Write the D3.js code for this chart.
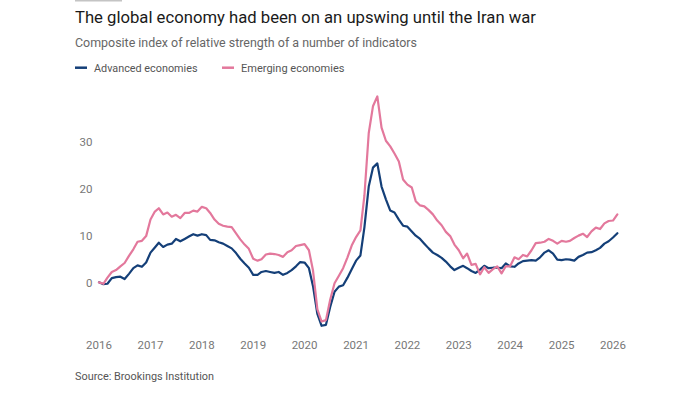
<!DOCTYPE html>
<html>
<head>
<meta charset="utf-8">
<script src="https://cdn.jsdelivr.net/npm/d3@7"></script>
<style>
  body { margin: 0; background: #fff; }
  svg { display: block; font-family: Roboto, 'Noto Sans', sans-serif; }
</style>
</head>
<body>
<svg></svg>
<script>
// 차트 데이터 (월별, 2016년 1월 ~ 2026년 2월)
const startMonth = '2016-01';
const seriesNames = ['Advanced economies', 'Emerging economies'];
const seriesColors = ['#143f78', '#e3789c'];

const advanced = [
  0.2, -0.2, -0.1, 1.1, 1.3, 1.4, 0.9, 2.0, 3.2, 3.8, 3.5, 4.4,
  6.5, 7.6, 8.6, 7.7, 8.2, 8.4, 9.4, 8.9, 9.4, 9.9, 10.4, 10.1,
  10.4, 10.2, 9.2, 9.1, 8.7, 8.4, 7.9, 7.4, 6.4, 5.2, 4.2, 3.3,
  1.8, 1.8, 2.4, 2.6, 2.4, 2.2, 2.4, 1.8, 2.2, 2.8, 3.6, 4.5,
  4.4, 3.2, -0.6, -6.5, -9.0, -8.8, -5.0, -1.8, -0.7, -0.4, 1.2, 3.0,
  4.8, 5.9, 11.8, 20.5, 24.5, 25.4, 20.5, 17.8, 15.4, 15.0, 13.5, 12.2,
  12.0, 11.0, 10.1, 9.4, 8.4, 7.4, 6.5, 6.0, 5.4, 4.6, 3.6, 2.8,
  3.3, 3.7, 3.2, 2.6, 2.2, 2.9, 3.7, 3.2, 3.3, 3.3, 3.2, 4.2,
  3.6, 3.5, 4.2, 4.7, 4.8, 4.9, 4.8, 5.5, 6.5, 7.0, 6.3, 5.0,
  4.9, 5.1, 5.0, 4.8, 5.6, 6.0, 6.5, 6.6, 7.0, 7.5, 8.4, 8.9,
  9.7, 10.6
];

const emerging = [
  0.2, -0.1, 1.2, 2.4, 2.8, 3.6, 4.3, 5.8, 7.2, 8.8, 9.0, 10.0,
  13.5, 15.2, 15.9, 14.6, 15.0, 14.1, 14.5, 13.8, 14.9, 14.9, 15.4, 15.2,
  16.2, 15.9, 14.9, 13.5, 12.6, 12.2, 12.0, 11.9, 10.6, 9.3, 8.2, 7.3,
  5.2, 4.8, 5.1, 6.1, 6.3, 6.2, 6.0, 5.6, 6.6, 7.0, 7.9, 8.1,
  8.3, 7.0, 2.7, -5.5, -8.1, -7.8, -3.5, 0.0, 1.6, 3.2, 5.5, 8.0,
  9.8, 11.2, 18.5, 31.8, 37.5, 39.6, 33.0, 30.2, 29.0, 27.5, 25.8, 22.0,
  20.9, 20.3, 17.4, 16.5, 16.3, 15.5, 14.6, 13.3, 12.3, 10.9, 10.0, 8.2,
  7.0, 5.3, 6.3, 3.9, 4.1, 1.9, 3.4, 2.2, 3.0, 3.6, 2.1, 3.6,
  3.6, 5.5, 5.1, 6.0, 5.7, 7.0, 8.5, 8.6, 8.8, 9.4, 9.0, 8.4,
  9.0, 8.8, 9.0, 9.6, 10.1, 10.5, 9.8, 11.0, 11.8, 11.5, 12.7, 13.2,
  13.3, 14.6
];

const yTicks = [0, 10, 20, 30];
const xTickYears = [2016, 2017, 2018, 2019, 2020, 2021, 2022, 2023, 2024, 2025, 2026];

document.addEventListener('DOMContentLoaded', function () {
  drawChart();
});

function drawChart() {
  const width = 700;
  const height = 394;
  const svg = d3.select('svg').attr('width', width).attr('height', height);

  const parseMonth = d3.timeParse('%Y-%m');
  const start = parseMonth(startMonth);
  const dates = advanced.map((_, i) => d3.timeMonth.offset(start, i));

  const x = d3.scaleTime()
    .domain([new Date(2016, 0, 1), new Date(2026, 0, 1)])
    .range([99, 613]);

  const y = d3.scaleLinear()
    .domain([0, 30])
    .range([283.3, 141.7]);

  // 상단 회색 막대
  svg.append('rect')
    .attr('x', 75)
    .attr('y', 0)
    .attr('width', 47)
    .attr('height', 1.5)
    .attr('fill', '#c4c4c4');

  // 제목, 부제목
  svg.append('text')
    .attr('x', 75)
    .attr('y', 22.7)
    .attr('font-size', 17)
    .attr('fill', '#1a1a1a')
    .attr('textLength', 461)
    .attr('lengthAdjust', 'spacingAndGlyphs')
    .text('The global economy had been on an upswing until the Iran war');

  svg.append('text')
    .attr('x', 75)
    .attr('y', 46.7)
    .attr('font-size', 12.5)
    .attr('fill', '#666')
    .attr('textLength', 342)
    .attr('lengthAdjust', 'spacingAndGlyphs')
    .text('Composite index of relative strength of a number of indicators');

  // 범례
  const legendX = [75, 222];
  const legend = svg.selectAll('.legend')
    .data(seriesNames)
    .enter()
    .append('g')
    .attr('class', 'legend')
    .attr('transform', (d, i) => `translate(${legendX[i]},0)`);

  legend.append('line')
    .attr('x1', 0)
    .attr('x2', 12)
    .attr('y1', 67.7)
    .attr('y2', 67.7)
    .attr('stroke', (d, i) => seriesColors[i])
    .attr('stroke-width', 2.5);

  legend.append('text')
    .attr('x', 19)
    .attr('y', 71.7)
    .attr('font-size', 11.5)
    .attr('fill', '#555')
    .attr('textLength', 103.5)
    .attr('lengthAdjust', 'spacingAndGlyphs')
    .text((d) => d);

  // y축 눈금
  svg.selectAll('.ytick')
    .data(yTicks)
    .enter()
    .append('text')
    .attr('class', 'ytick')
    .attr('x', 92.5)
    .attr('y', (d) => y(d))
    .attr('dy', '0.35em')
    .attr('text-anchor', 'end')
    .attr('font-size', 11.5)
    .attr('fill', '#777')
    .text((d) => d);

  // x축 눈금
  svg.selectAll('.xtick')
    .data(xTickYears)
    .enter()
    .append('text')
    .attr('class', 'xtick')
    .attr('x', (d) => x(new Date(d, 0, 1)))
    .attr('y', 349.3)
    .attr('text-anchor', 'middle')
    .attr('font-size', 11.5)
    .attr('fill', '#777')
    .text((d) => d);

  // 선 그리기
  const line = d3.line()
    .x((d, i) => x(dates[i]))
    .y((d) => y(d));

  svg.selectAll('.series')
    .data([advanced, emerging])
    .enter()
    .append('path')
    .attr('class', 'series')
    .attr('d', line)
    .attr('fill', 'none')
    .attr('stroke', (d, i) => seriesColors[i])
    .attr('stroke-width', 2.2)
    .attr('stroke-linejoin', 'round')
    .attr('stroke-linecap', 'round');

  // 출처
  svg.append('text')
    .attr('x', 75)
    .attr('y', 380)
    .attr('font-size', 11)
    .attr('fill', '#555')
    .attr('textLength', 139)
    .attr('lengthAdjust', 'spacingAndGlyphs')
    .text('Source: Brookings Institution');
}
</script>
</body>
</html>
